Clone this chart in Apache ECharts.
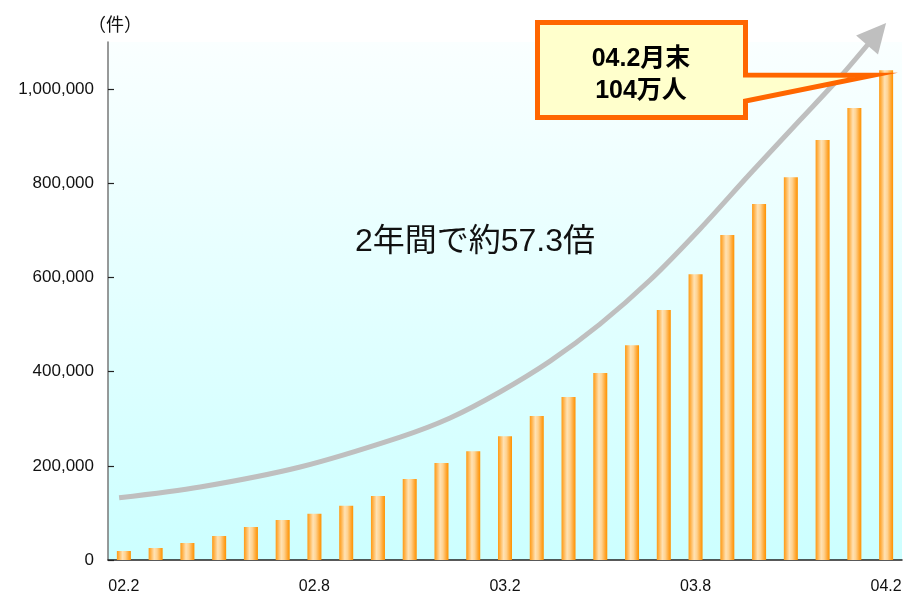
<!DOCTYPE html>
<html><head><meta charset="utf-8">
<script src="https://cdn.jsdelivr.net/npm/echarts@6/dist/echarts.min.js"></script>
<style>html,body{margin:0;padding:0;background:#fff}#c{width:908px;height:597px}</style>
</head><body><div id="c"></div>
<script>
const categories = ['02.2','02.3','02.4','02.5','02.6','02.7','02.8','02.9','02.10','02.11','02.12','03.1','03.2','03.3','03.4','03.5','03.6','03.7','03.8','03.9','03.10','03.11','03.12','04.1','04.2'];
const bars = [19000,25500,36000,51000,70000,85000,98000,115000,136000,172000,206000,231000,263000,306000,346000,397000,456000,531000,607000,690000,756000,813000,892000,960000,1040000];
// decorative trend arrow (x in category units)
const trendX = [-0.15, 2.4, 5.55, 8.7, 10.27, 11.84, 13.42, 14.99, 16.57, 18.14, 19.71, 21.29, 22.55, 23.70];
const trendY = [132000, 155000, 197500, 261000, 301500, 356700, 422300, 500900, 594600, 703000, 819700, 934400, 1025700, 1117000];
const yTicks = [0, 200000, 400000, 600000, 800000, 1000000];
const unitLabel = '（件）';
const growthText = '2年間で約57.3倍';
const calloutText = '04.2月末\n104万人';

const FONT = '"Liberation Sans", Arial, "Noto Sans CJK JP", sans-serif';
const chart = echarts.init(document.getElementById('c'), null, {renderer: 'canvas'});

const trendData = trendX.map((x, i) => {
  const item = {value: [x, trendY[i]]};
  if (i === trendX.length - 1) {
    item.symbol = 'triangle';
    item.symbolSize = [29, 29];
    item.symbolRotate = -41;
  }
  return item;
});

const option = {
  animation: false,
  backgroundColor: '#ffffff',
  grid: {
    left: 108, right: 6, top: 42, bottom: 37, containLabel: false, outerBoundsMode: 'none',
    show: true, borderWidth: 0,
    backgroundColor: new echarts.graphic.LinearGradient(0, 0, 0, 1, [
      {offset: 0, color: '#FAFFFF'},
      {offset: 1, color: '#CCFFFF'}
    ])
  },
  xAxis: [{
    type: 'category',
    data: categories,
    boundaryGap: true,
    axisLine: {lineStyle: {color: '#222', width: 1.5}},
    axisTick: {inside: true, length: 6, interval: 0, alignWithLabel: false, lineStyle: {color: '#222', width: 1.2}},
    axisLabel: {interval: 5, margin: 19, fontSize: 16, color: '#111', fontFamily: FONT},
    splitLine: {show: false}
  }, {
    type: 'value', min: -0.5, max: 24.5, show: false
  }],
  yAxis: {
    type: 'value',
    min: 0, max: 1100000, interval: 200000,
    name: unitLabel,
    nameLocation: 'end',
    nameGap: 8,
    nameTextStyle: {fontSize: 18, color: '#111', fontFamily: '"Noto Sans CJK JP", sans-serif', padding: [0, 0, 0, 14], lineHeight: 20},
    axisLine: {show: true, onZero: false, lineStyle: {color: '#777', width: 1.5}},
    axisTick: {show: true, inside: true, length: 6, customValues: yTicks, lineStyle: {color: '#222', width: 1.2}},
    axisLabel: {customValues: yTicks, margin: 14, fontSize: 17, color: '#111', fontFamily: FONT},
    splitLine: {show: false}
  },
  series: [{
    type: 'bar',
    data: bars,
    barWidth: 14,
    itemStyle: {
      color: new echarts.graphic.LinearGradient(0, 0, 1, 0, [
        {offset: 0, color: '#FF9A14'},
        {offset: 0.15, color: '#FFB24A'},
        {offset: 0.4, color: '#FFE2B4'},
        {offset: 0.6, color: '#FFD290'},
        {offset: 0.85, color: '#FFA630'},
        {offset: 1, color: '#FF9200'}
      ])
    },
    emphasis: {disabled: true},
    z: 2
  }, {
    type: 'line',
    xAxisIndex: 1,
    data: trendData,
    smooth: 0.3,
    clip: false,
    symbol: 'none',
    showSymbol: true,
    lineStyle: {color: '#BFBFBF', width: 5},
    itemStyle: {color: '#BFBFBF', borderWidth: 0},
    emphasis: {disabled: true},
    silent: true,
    z: 3
  }]
};
chart.setOption(option);

const lastBarTop = chart.convertToPixel({xAxisIndex: 0, yAxisIndex: 0}, [bars.length - 1, bars[bars.length - 1]]);
const tailTip = [lastBarTop[0] - 13, lastBarTop[1] + 5];
chart.setOption({
  graphic: [{
    type: 'text',
    style: {text: growthText, x: 475, y: 242, align: 'center', verticalAlign: 'middle',
      font: '32px ' + FONT, fill: '#111'},
    z: 50
  }, {
    type: 'polygon',
    shape: {points: [[537.5, 22.5], [745.5, 22.5], [745.5, 75], tailTip, [745.5, 101], [745.5, 117.5], [537.5, 117.5]]},
    style: {fill: '#FFFFCC', stroke: '#FF6600', lineWidth: 5, lineJoin: 'miter'},
    z: 100
  }, {
    type: 'text',
    style: {text: calloutText, x: 641, y: 75, align: 'center', verticalAlign: 'middle',
      font: 'bold 25px ' + FONT, lineHeight: 32, fill: '#000'},
    z: 101
  }]
});
</script>
</body></html>
